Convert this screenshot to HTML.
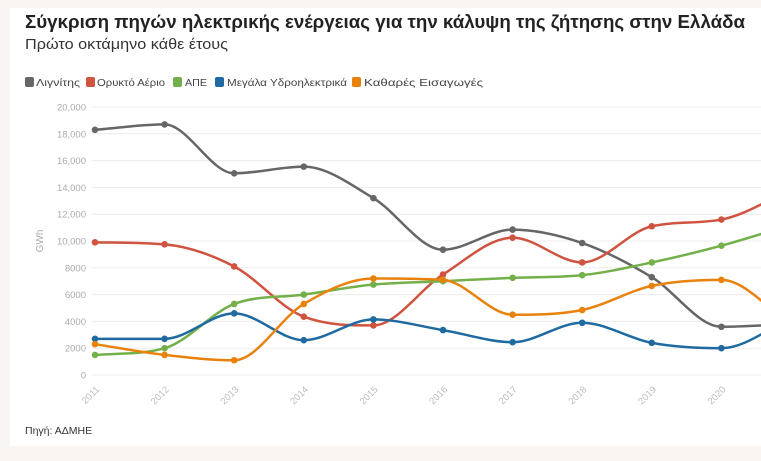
<!DOCTYPE html>
<html><head><meta charset="utf-8"><style>
html,body{margin:0;padding:0;width:761px;height:461px;overflow:hidden;background:#f8f5f3;font-family:"Liberation Sans","DejaVu Sans",sans-serif;}
#card{position:absolute;left:10px;top:8px;width:760px;height:438px;background:#fff;}
</style></head><body>
<div id="card"></div>
<svg id="s" width="761" height="461" style="position:absolute;left:0;top:0">
<text x="25" y="28" font-size="18" font-weight="bold" fill="#222" textLength="720" lengthAdjust="spacingAndGlyphs">Σύγκριση πηγών ηλεκτρικής ενέργειας για την κάλυψη της ζήτησης στην Ελλάδα</text>
<text x="25" y="49" font-size="14.5" fill="#333" textLength="203" lengthAdjust="spacingAndGlyphs">Πρώτο οκτάμηνο κάθε έτους</text>
<g font-size="10.5" fill="#444">
<rect x="25" y="77" width="9" height="10" rx="2" fill="#666"/><text x="36" y="86" textLength="44" lengthAdjust="spacingAndGlyphs">Λιγνίτης</text>
<rect x="86" y="77" width="9" height="10" rx="2" fill="#d0533f"/><text x="97" y="86" textLength="68" lengthAdjust="spacingAndGlyphs">Ορυκτό Αέριο</text>
<rect x="173" y="77" width="9" height="10" rx="2" fill="#74b04a"/><text x="185" y="86" textLength="22" lengthAdjust="spacingAndGlyphs">ΑΠΕ</text>
<rect x="215" y="77" width="9" height="10" rx="2" fill="#1f6aa0"/><text x="227" y="86" textLength="120" lengthAdjust="spacingAndGlyphs">Μεγάλα Υδροηλεκτρικά</text>
<rect x="352" y="77" width="9" height="10" rx="2" fill="#e8820c"/><text x="364" y="86" textLength="119" lengthAdjust="spacingAndGlyphs">Καθαρές Εισαγωγές</text>
</g>
<g id="grid"></g><g id="lines"></g>
<text transform="translate(43,241) rotate(-90)" font-size="10" fill="#aaa" text-anchor="middle">GWh</text>
<text x="25" y="434" font-size="10.5" fill="#333">Πηγή: ΑΔΜΗΕ</text>
</svg>
<script>
var ns="http://www.w3.org/2000/svg",g=document.getElementById('grid'),L=document.getElementById('lines');
function X(i){return 95+i*69.6}function Y(v){return 375-v*0.0134}
function el(t,a,p,txt){var e=document.createElementNS(ns,t);for(var k in a)e.setAttribute(k,a[k]);if(txt)e.textContent=txt;p.appendChild(e);return e}
for(var v=0;v<=20000;v+=2000){var y=Y(v);el('line',{x1:92,x2:761,y1:y,y2:y,stroke:'#ececec'},g);
el('text',{x:86,y:y+3.5,'font-size':9.5,fill:'#aaa','text-anchor':'end'},g,v>=10000?(v/1000)+',000':String(v));}
for(var i=0;i<10;i++){var x=X(i);el('text',{x:x+5,y:390,'font-size':9.5,fill:'#bbb','text-anchor':'end',transform:'rotate(-45 '+(x+5)+' 390)'},g,String(2011+i));}
var S=[['#666',[18300,18700,15050,15550,13200,9350,10850,9850,7300,3600,3800]],
['#d0533f',[9900,9750,8100,4350,3700,7500,10250,8400,11100,11600,13800]],
['#74b04a',[1500,2000,5300,6000,6750,7000,7250,7450,8400,9650,11200]],
['#1f6aa0',[2700,2700,4600,2600,4150,3350,2450,3900,2400,2000,4200]],
['#e8820c',[2300,1500,1100,5300,7200,7100,4500,4850,6650,7100,3800]]];
function mono(p){var n=p.length,d=[],m=[];for(var i=0;i<n-1;i++)d.push((p[i+1][1]-p[i][1])/(p[i+1][0]-p[i][0]));
m[0]=d[0];m[n-1]=d[n-2];for(i=1;i<n-1;i++){m[i]=d[i-1]*d[i]<=0?0:(d[i-1]+d[i])/2;}
for(i=0;i<n-1;i++){if(d[i]==0){m[i]=m[i+1]=0;continue;}var a=m[i]/d[i],b=m[i+1]/d[i],s=a*a+b*b;if(s>9){var t=3/Math.sqrt(s);m[i]=t*a*d[i];m[i+1]=t*b*d[i];}}
var s='M'+p[0][0]+','+p[0][1];for(i=0;i<n-1;i++){var h=(p[i+1][0]-p[i][0])/3;s+='C'+(p[i][0]+h)+','+(p[i][1]+m[i]*h)+' '+(p[i+1][0]-h)+','+(p[i+1][1]-m[i+1]*h)+' '+p[i+1][0]+','+p[i+1][1];}return s;}
S.forEach(function(s){var p=s[1].map(function(v,i){return[X(i),Y(v)]});
el('path',{d:mono(p),fill:'none',stroke:s[0],'stroke-width':2.5},L);
p.forEach(function(q){el('circle',{cx:q[0],cy:q[1],r:3.3,fill:s[0]},L)});});
</script>
</body></html>
